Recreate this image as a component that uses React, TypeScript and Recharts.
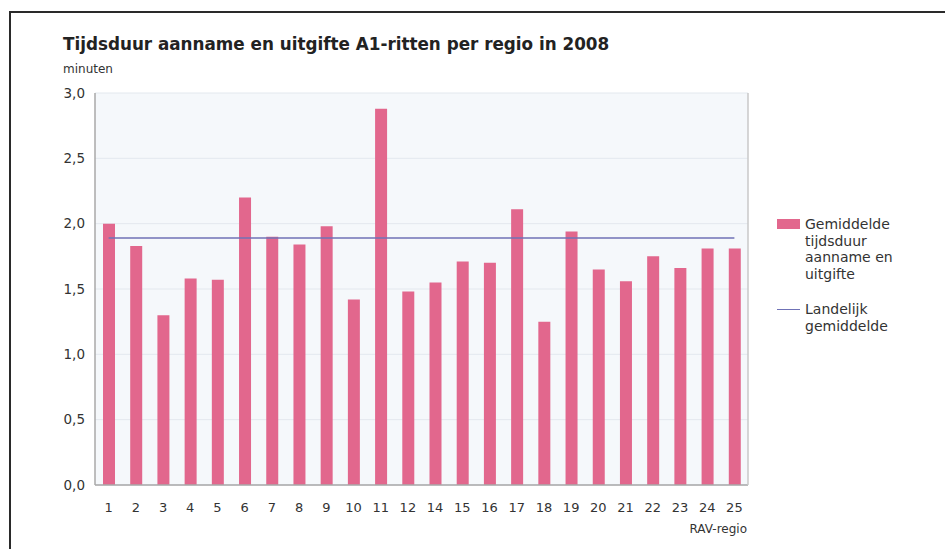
import React from 'react';
import {
  ComposedChart,
  Bar,
  Line,
  XAxis,
  YAxis,
  CartesianGrid,
} from 'recharts';

// RAV regions (region 13 has no figure)
const regions: string[] = [
  '1', '2', '3', '4', '5', '6', '7', '8', '9', '10', '11', '12',
  '14', '15', '16', '17', '18', '19', '20', '21', '22', '23', '24', '25',
];

// Average time (minutes) for intake and dispatch of A1 trips per region
const duration: number[] = [
  2.0, 1.83, 1.3, 1.58, 1.57, 2.2, 1.9, 1.84, 1.98, 1.42, 2.88, 1.48,
  1.55, 1.71, 1.7, 2.11, 1.25, 1.94, 1.65, 1.56, 1.75, 1.66, 1.81, 1.81,
];

// National average (minutes)
const nationalAverage = 1.89;

const yTicks: number[] = [0, 0.5, 1, 1.5, 2, 2.5, 3];

const BAR_COLOR = '#e2678d';
const LINE_COLOR = '#6f72b6';
const TEXT_COLOR = '#333333';
const FONT = '"DejaVu Sans", Verdana, sans-serif';

const data = regions.map((r, i) => ({
  regio: r,
  duur: duration[i],
  landelijk: nationalAverage,
}));

const fmt = (v: number) => v.toFixed(1).replace('.', ',');

const legendText: React.CSSProperties = {
  fontFamily: FONT,
  fontSize: 14,
  color: TEXT_COLOR,
  lineHeight: '16.5px',
  whiteSpace: 'nowrap',
};

function ChartLegend() {
  return (
    <div style={{ position: 'absolute', left: 777, top: 216, width: 160 }}>
      <div style={{ display: 'flex', alignItems: 'flex-start' }}>
        <div
          style={{
            width: 23,
            height: 10,
            background: BAR_COLOR,
            marginTop: 3,
            marginRight: 5,
            flex: 'none',
          }}
        />
        <div style={legendText}>
          Gemiddelde
          <br />
          tijdsduur
          <br />
          aanname en
          <br />
          uitgifte
        </div>
      </div>
      <div style={{ display: 'flex', alignItems: 'flex-start', marginTop: 19 }}>
        <div
          style={{
            width: 23,
            height: 0,
            borderTop: `1.5px solid ${LINE_COLOR}`,
            marginTop: 8,
            marginRight: 5,
            flex: 'none',
          }}
        />
        <div style={legendText}>
          Landelijk
          <br />
          gemiddelde
        </div>
      </div>
    </div>
  );
}

export default function App() {
  return (
    <div
      style={{
        position: 'absolute',
        left: 0,
        top: 0,
        width: 945,
        height: 549,
        background: '#ffffff',
        overflow: 'hidden',
      }}
    >
      {/* outer frame */}
      <div
        style={{
          position: 'absolute',
          left: 9,
          top: 11,
          width: 1000,
          height: 600,
          border: '2px solid #2a2a2a',
          boxSizing: 'border-box',
        }}
      />
      <div
        style={{
          position: 'absolute',
          left: 63,
          top: 34,
          fontFamily: FONT,
          fontWeight: 'bold',
          fontSize: 16.8,
          color: '#222',
          whiteSpace: 'nowrap',
        }}
      >
        Tijdsduur aanname en uitgifte A1-ritten per regio in 2008
      </div>
      <div
        style={{
          position: 'absolute',
          left: 63,
          top: 62,
          fontFamily: FONT,
          fontSize: 12,
          color: TEXT_COLOR,
        }}
      >
        minuten
      </div>
      <div
        style={{
          position: 'absolute',
          right: 945 - 747,
          top: 522,
          fontFamily: FONT,
          fontSize: 12,
          color: TEXT_COLOR,
        }}
      >
        RAV-regio
      </div>
      <div style={{ position: 'absolute', left: 0, top: 0 }}>
        <ComposedChart
          width={945}
          height={549}
          data={data}
          margin={{ top: 93, right: 196, bottom: 34, left: 35 }}
          barCategoryGap={0}
        >
          <CartesianGrid
            vertical={false}
            stroke="#e3e8ee"
            fill="#f5f8fb"
            fillOpacity={1}
          />
          <XAxis
            dataKey="regio"
            interval={0}
            tickSize={0}
            tickMargin={18}
            height={30}
            axisLine={{ stroke: '#a8a8a8', strokeWidth: 1.5 }}
            tick={{ fill: TEXT_COLOR, fontSize: 13, fontFamily: FONT }}
          />
          <XAxis
            xAxisId="top"
            dataKey="regio"
            orientation="top"
            height={0}
            tick={false}
            tickLine={false}
            axisLine={{ stroke: '#c8c8c8', strokeWidth: 1.5 }}
          />
          <YAxis
            domain={[0, 3]}
            ticks={yTicks}
            width={60}
            tickSize={0}
            tickMargin={10}
            tickFormatter={fmt}
            axisLine={{ stroke: '#a8a8a8', strokeWidth: 1.5 }}
            tick={{ fill: TEXT_COLOR, fontSize: 13.5, fontFamily: FONT }}
          />
          <YAxis
            yAxisId="right"
            orientation="right"
            domain={[0, 3]}
            width={1}
            tick={false}
            tickLine={false}
            axisLine={{ stroke: '#c8c8c8', strokeWidth: 1.5 }}
          />
          <Bar
            dataKey="duur"
            name="Gemiddelde tijdsduur aanname en uitgifte"
            fill={BAR_COLOR}
            barSize={12}
            isAnimationActive={false}
          />
          <Line
            dataKey="landelijk"
            name="Landelijk gemiddelde"
            stroke={LINE_COLOR}
            strokeWidth={1.5}
            dot={false}
            activeDot={false}
            isAnimationActive={false}
          />
        </ComposedChart>
      </div>
      <ChartLegend />
    </div>
  );
}
